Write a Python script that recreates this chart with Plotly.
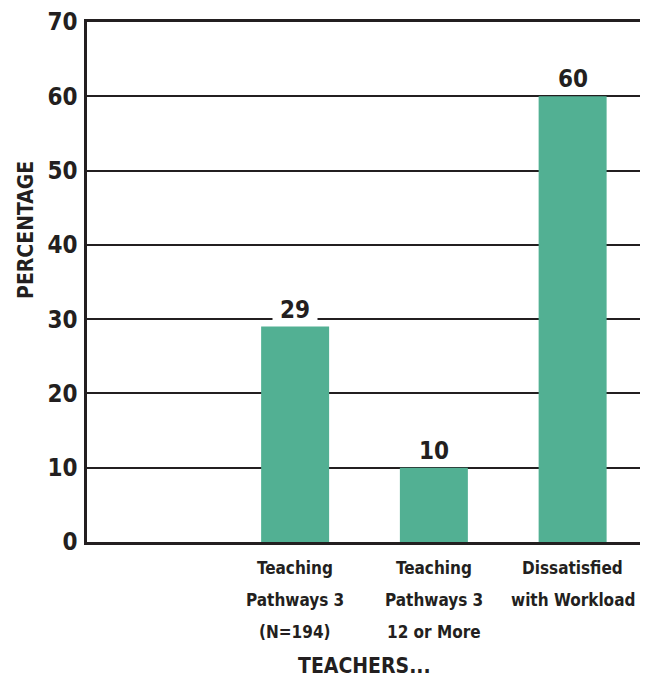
import plotly.graph_objects as go

# dados
categorias = [
    "Teaching<br>Pathways 3<br>(N=194)",
    "Teaching<br>Pathways 3<br>12 or More",
    "Dissatisfied<br>with Workload",
]
percentuais = [29, 10, 60]
y_ticks = [0, 10, 20, 30, 40, 50, 60, 70]

BAR = "#52b093"
INK = "#231f20"
FONT = "DejaVu Sans Condensed, DejaVu Sans, sans-serif"

fig = go.Figure(go.Bar(
    x=categorias, y=percentuais,
    marker=dict(color=BAR, line_width=0),
    width=0.49,
))

# rótulos de valor com fundo branco (cortam a linha de grade)
for c, v in zip(categorias, percentuais):
    fig.add_annotation(
        x=c, y=v, text=f"<b>{v}</b>", showarrow=False,
        yanchor="bottom", yshift=2, bgcolor="white", width=44, borderpad=0,
        font=dict(family=FONT, size=24, color=INK),
    )

# rótulos das categorias, uma linha por anotação (entrelinha maior que a do plotly)
for c in categorias:
    for i, linha in enumerate(c.split("<br>")):
        fig.add_annotation(
            x=c, y=0, text=f"<b>{linha}</b>", showarrow=False,
            yanchor="middle", yshift=-26 - 32 * i,
            font=dict(family=FONT, size=17, color=INK),
        )

fig.add_annotation(
    x=-0.11, y=0.6, xref="paper", yref="paper", text="<b>PERCENTAGE</b>",
    xanchor="center", yanchor="middle", textangle=-90, showarrow=False,
    font=dict(family=FONT, size=21, color=INK),
)
fig.add_annotation(
    x=0.5, y=-0.238, xref="paper", yref="paper", text="<b>TEACHERS...</b>",
    xanchor="center", yanchor="middle", showarrow=False,
    font=dict(family=FONT, size=21, color=INK),
)

# a página tem margem no body, por isso a figura é um pouco menor
fig.update_layout(
    width=640, height=675,
    margin=dict(l=79, r=6, t=14, b=141),
    paper_bgcolor="white", plot_bgcolor="white",
    showlegend=False,
    font=dict(family=FONT, color=INK),
    xaxis=dict(
        type="category", range=[-1.5, 2.5], automargin=False,
        showgrid=False, showline=True, linecolor=INK, linewidth=2.5, mirror=True,
        ticks="", showticklabels=False,
    ),
    yaxis=dict(
        range=[0, 70], tickvals=y_ticks, automargin=False,
        showgrid=True, gridcolor=INK, gridwidth=2,
        showline=True, linecolor=INK, linewidth=2.5, mirror=True,
        zeroline=False, ticks="", ticklabelstandoff=2, ticklabeloverflow="allow",
        tickfont=dict(family=FONT, size=24, color=INK, weight="bold"),
    ),
)

fig.write_html("out.html")
